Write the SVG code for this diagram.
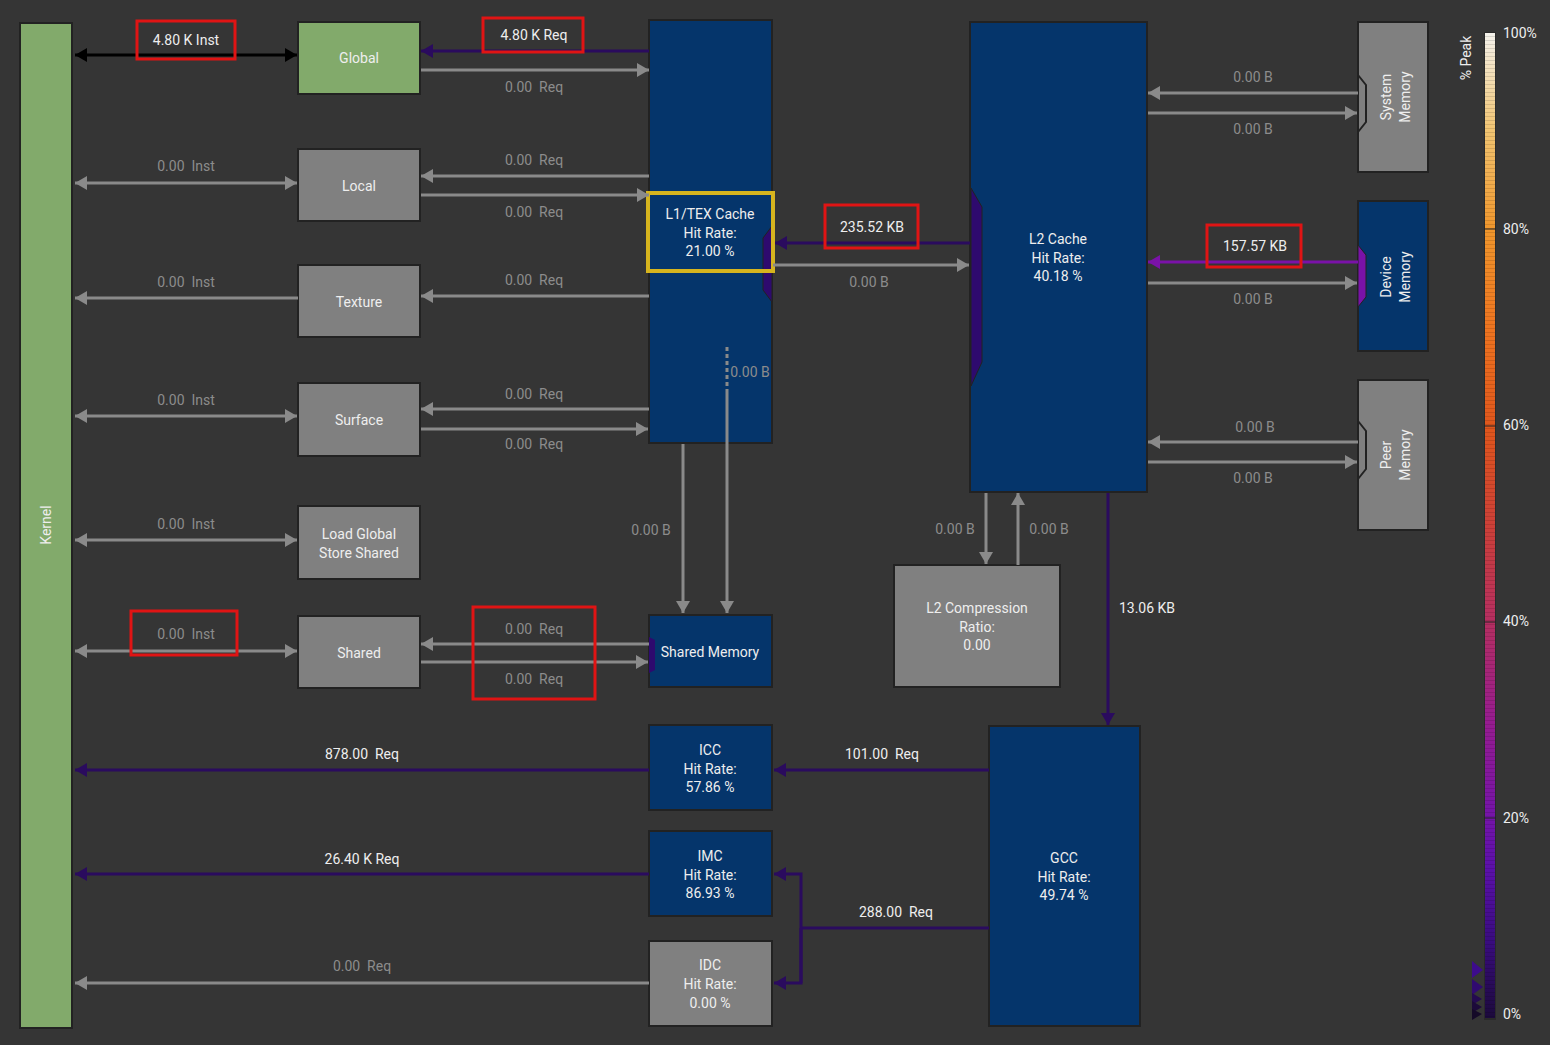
<svg xmlns="http://www.w3.org/2000/svg" width="1550" height="1045" viewBox="0 0 1550 1045">
<defs>
<style>
text{font-family:Roboto,"Liberation Sans",sans-serif;font-size:14px;white-space:pre}
.w{fill:#eeeeee;text-anchor:middle}
.g{fill:#8c8c8c;text-anchor:middle}
.nav{fill:#05356b;stroke:#222;stroke-width:2}
.gry{fill:#808080;stroke:#222;stroke-width:2}
.grn{fill:#82aa6b;stroke:#222;stroke-width:2}
.cg{stroke:#8a8a8a;stroke-width:3;fill:none}
.ck{stroke:#000;stroke-width:3;fill:none}
.cp{stroke:#2a0b5e;stroke-width:3;fill:none}
.cv{stroke:#7a12a8;stroke-width:3;fill:none}
.red{fill:none;stroke:#e01414;stroke-width:3}
</style>
<marker id="ag" viewBox="0 0 12 14" refX="12" refY="7" markerWidth="12" markerHeight="14" markerUnits="userSpaceOnUse" orient="auto-start-reverse"><path d="M0,0L12,7L0,14z" fill="#8a8a8a"/></marker>
<marker id="ak" viewBox="0 0 12 14" refX="12" refY="7" markerWidth="12" markerHeight="14" markerUnits="userSpaceOnUse" orient="auto-start-reverse"><path d="M0,0L12,7L0,14z" fill="#000"/></marker>
<marker id="ap" viewBox="0 0 12 14" refX="12" refY="7" markerWidth="12" markerHeight="14" markerUnits="userSpaceOnUse" orient="auto-start-reverse"><path d="M0,0L12,7L0,14z" fill="#2a0b5e"/></marker>
<marker id="av" viewBox="0 0 12 14" refX="12" refY="7" markerWidth="12" markerHeight="14" markerUnits="userSpaceOnUse" orient="auto-start-reverse"><path d="M0,0L12,7L0,14z" fill="#7a12a8"/></marker>
<linearGradient id="scale" x1="0" y1="1" x2="0" y2="0">
<stop offset="0" stop-color="#1c0a3c"/>
<stop offset="0.08" stop-color="#3a0c80"/>
<stop offset="0.15" stop-color="#5a10a8"/>
<stop offset="0.2" stop-color="#7214a8"/>
<stop offset="0.3" stop-color="#961c90"/>
<stop offset="0.4" stop-color="#b42e62"/>
<stop offset="0.5" stop-color="#cc4038"/>
<stop offset="0.6" stop-color="#e0561c"/>
<stop offset="0.7" stop-color="#ee7420"/>
<stop offset="0.8" stop-color="#f0962c"/>
<stop offset="0.9" stop-color="#f2c470"/>
<stop offset="1" stop-color="#f4f2ec"/>
</linearGradient>
<pattern id="stripes" width="4" height="4" patternUnits="userSpaceOnUse"><rect width="4" height="1" fill="#000" opacity="0.12"/></pattern>
</defs>
<rect width="1550" height="1045" fill="#353535"/>

<g id="kernel">
<rect class="grn" x="20" y="23" width="52" height="1005"/>
<text class="w" transform="translate(51,525) rotate(-90)" x="0" y="0">Kernel</text>
</g>
<g id="global">
<rect class="grn" x="298" y="22" width="122" height="72"/>
<text class="w" x="359" y="63">Global</text>
</g>
<g id="local">
<rect class="gry" x="298" y="149" width="122" height="72"/>
<text class="w" x="359" y="191">Local</text>
</g>
<g id="texture">
<rect class="gry" x="298" y="265" width="122" height="72"/>
<text class="w" x="359" y="307">Texture</text>
</g>
<g id="surface">
<rect class="gry" x="298" y="383" width="122" height="73"/>
<text class="w" x="359" y="425">Surface</text>
</g>
<g id="lgss">
<rect class="gry" x="298" y="506" width="122" height="73"/>
<text class="w" x="359" y="539">Load Global</text>
<text class="w" x="359" y="558">Store Shared</text>
</g>
<g id="shared">
<rect class="gry" x="298" y="616" width="122" height="72"/>
<text class="w" x="359" y="658">Shared</text>
</g>
<g id="l1tex">
<rect class="nav" x="649" y="20" width="123" height="423"/>
<polygon points="772,226 763,238 763,290 772,302" fill="#2e0a6e" stroke="#222" stroke-width="1"/>
<rect x="648" y="193" width="125" height="78" fill="none" stroke="#d6b41e" stroke-width="4"/>
<text class="w" x="710" y="219">L1/TEX Cache</text>
<text class="w" x="710" y="238">Hit Rate:</text>
<text class="w" x="710" y="256">21.00 %</text>
</g>
<g id="l2cache">
<rect class="nav" x="970" y="22" width="177" height="470"/>
<polygon points="971,188 982,207 982,362 971,386" fill="#2e0a6e" stroke="#222" stroke-width="1"/>
<text class="w" x="1058" y="244">L2 Cache</text>
<text class="w" x="1058" y="263">Hit Rate:</text>
<text class="w" x="1058" y="281">40.18 %</text>
</g>
<g id="sysmem">
<rect class="gry" x="1358" y="22" width="70" height="150"/>
<polygon points="1358,75 1366,85 1366,122 1358,132" fill="#808080" stroke="#222" stroke-width="2"/>
<g transform="translate(1395,97) rotate(-90)">
<text class="w" x="0" y="-4">System</text>
<text class="w" x="0" y="15">Memory</text>
</g>
</g>
<g id="devmem">
<rect class="nav" x="1358" y="201" width="70" height="150"/>
<polygon points="1358,245 1366,255 1366,297 1358,307" fill="#7a12a8" stroke="#222" stroke-width="1"/>
<g transform="translate(1395,277) rotate(-90)">
<text class="w" x="0" y="-4">Device</text>
<text class="w" x="0" y="15">Memory</text>
</g>
</g>
<g id="peermem">
<rect class="gry" x="1358" y="380" width="70" height="150"/>
<polygon points="1358,421 1366,431 1366,469 1358,479" fill="#808080" stroke="#222" stroke-width="2"/>
<g transform="translate(1395,455) rotate(-90)">
<text class="w" x="0" y="-4">Peer</text>
<text class="w" x="0" y="15">Memory</text>
</g>
</g>
<g id="l2comp">
<rect class="gry" x="894" y="565" width="166" height="122"/>
<text class="w" x="977" y="613">L2 Compression</text>
<text class="w" x="977" y="632">Ratio:</text>
<text class="w" x="977" y="650">0.00</text>
</g>
<g id="sharedmem">
<rect class="nav" x="649" y="615" width="123" height="72"/>
<polygon points="649,637 655,640 655,670 649,673" fill="#2e0a6e"/>
<text class="w" x="710" y="657">Shared Memory</text>
</g>
<g id="icc">
<rect class="nav" x="649" y="725" width="123" height="85"/>
<text class="w" x="710" y="755">ICC</text>
<text class="w" x="710" y="774">Hit Rate:</text>
<text class="w" x="710" y="792">57.86 %</text>
</g>
<g id="imc">
<rect class="nav" x="649" y="831" width="123" height="85"/>
<text class="w" x="710" y="861">IMC</text>
<text class="w" x="710" y="880">Hit Rate:</text>
<text class="w" x="710" y="898">86.93 %</text>
</g>
<g id="idc">
<rect class="gry" x="649" y="941" width="123" height="85"/>
<text class="w" x="710" y="970">IDC</text>
<text class="w" x="710" y="989">Hit Rate:</text>
<text class="w" x="710" y="1008">0.00 %</text>
</g>
<g id="gcc">
<rect class="nav" x="989" y="726" width="151" height="300"/>
<text class="w" x="1064" y="863">GCC</text>
<text class="w" x="1064" y="882">Hit Rate:</text>
<text class="w" x="1064" y="900">49.74 %</text>
</g>

<g id="connectors">
<!-- kernel to nodes -->
<line class="ck" x1="75" y1="55" x2="297" y2="55" marker-start="url(#ak)" marker-end="url(#ak)"/>
<line class="cg" x1="75" y1="183" x2="297" y2="183" marker-start="url(#ag)" marker-end="url(#ag)"/>
<line class="cg" x1="75" y1="298" x2="298" y2="298" marker-start="url(#ag)"/>
<line class="cg" x1="75" y1="416" x2="297" y2="416" marker-start="url(#ag)" marker-end="url(#ag)"/>
<line class="cg" x1="75" y1="540" x2="297" y2="540" marker-start="url(#ag)" marker-end="url(#ag)"/>
<line class="cg" x1="75" y1="651" x2="297" y2="651" marker-start="url(#ag)" marker-end="url(#ag)"/>
<!-- nodes to L1 -->
<line class="cp" x1="649" y1="51" x2="421" y2="51" marker-end="url(#ap)"/>
<line class="cg" x1="421" y1="70" x2="649" y2="70" marker-end="url(#ag)"/>
<line class="cg" x1="649" y1="176" x2="421" y2="176" marker-end="url(#ag)"/>
<line class="cg" x1="421" y1="195" x2="649" y2="195" marker-end="url(#ag)"/>
<line class="cg" x1="649" y1="296" x2="421" y2="296" marker-end="url(#ag)"/>
<line class="cg" x1="649" y1="409" x2="421" y2="409" marker-end="url(#ag)"/>
<line class="cg" x1="421" y1="429" x2="648" y2="429" marker-end="url(#ag)"/>
<line class="cg" x1="649" y1="644" x2="421" y2="644" marker-end="url(#ag)"/>
<line class="cg" x1="421" y1="662" x2="648" y2="662" marker-end="url(#ag)"/>
<!-- L1 to shared memory -->
<line class="cg" x1="683" y1="444" x2="683" y2="613" marker-end="url(#ag)"/>
<line stroke="#8a8a8a" stroke-width="3" stroke-dasharray="4,3" x1="727" y1="347" x2="727" y2="390"/>
<line class="cg" x1="727" y1="390" x2="727" y2="613" marker-end="url(#ag)"/>
<!-- L1 <-> L2 -->
<line class="cp" x1="970" y1="243" x2="775" y2="243" marker-end="url(#ap)"/>
<line class="cg" x1="773" y1="265" x2="969" y2="265" marker-end="url(#ag)"/>
<!-- L2 <-> memories -->
<line class="cg" x1="1358" y1="93" x2="1148" y2="93" marker-end="url(#ag)"/>
<line class="cg" x1="1148" y1="113" x2="1357" y2="113" marker-end="url(#ag)"/>
<line class="cv" x1="1358" y1="262" x2="1148" y2="262" marker-end="url(#av)"/>
<line class="cg" x1="1148" y1="283" x2="1357" y2="283" marker-end="url(#ag)"/>
<line class="cg" x1="1358" y1="442" x2="1148" y2="442" marker-end="url(#ag)"/>
<line class="cg" x1="1148" y1="462" x2="1357" y2="462" marker-end="url(#ag)"/>
<!-- L2 <-> compression -->
<line class="cg" x1="986" y1="493" x2="986" y2="564" marker-end="url(#ag)"/>
<line class="cg" x1="1018" y1="565" x2="1018" y2="493" marker-end="url(#ag)"/>
<!-- L2 to GCC -->
<line class="cp" x1="1108" y1="493" x2="1108" y2="725" marker-end="url(#ap)"/>
<!-- GCC to ICC/IMC/IDC -->
<line class="cp" x1="989" y1="770" x2="774" y2="770" marker-end="url(#ap)"/>
<polyline class="cp" points="989,928 801,928"/>
<polyline class="cp" points="801,983 801,874 774,874" marker-end="url(#ap)"/>
<polyline class="cp" points="801,928 801,983 774,983" marker-end="url(#ap)"/>
<!-- ICC/IMC/IDC to kernel -->
<line class="cp" x1="649" y1="770" x2="75" y2="770" marker-end="url(#ap)"/>
<line class="cp" x1="649" y1="874" x2="75" y2="874" marker-end="url(#ap)"/>
<line class="cg" x1="649" y1="983" x2="75" y2="983" marker-end="url(#ag)"/>

<!-- labels -->
<text class="w" x="186" y="45">4.80 K Inst</text>
<text class="g" x="186" y="171">0.00  Inst</text>
<text class="g" x="186" y="287">0.00  Inst</text>
<text class="g" x="186" y="405">0.00  Inst</text>
<text class="g" x="186" y="529">0.00  Inst</text>
<text class="g" x="186" y="639">0.00  Inst</text>
<text class="w" x="534" y="40">4.80 K Req</text>
<text class="g" x="534" y="92">0.00  Req</text>
<text class="g" x="534" y="165">0.00  Req</text>
<text class="g" x="534" y="217">0.00  Req</text>
<text class="g" x="534" y="285">0.00  Req</text>
<text class="g" x="534" y="399">0.00  Req</text>
<text class="g" x="534" y="449">0.00  Req</text>
<text class="g" x="534" y="634">0.00  Req</text>
<text class="g" x="534" y="684">0.00  Req</text>
<text class="g" x="750" y="377">0.00 B</text>
<text class="g" x="651" y="535">0.00 B</text>
<text class="w" x="872" y="232">235.52 KB</text>
<text class="g" x="869" y="287">0.00 B</text>
<text class="g" x="1253" y="82">0.00 B</text>
<text class="g" x="1253" y="134">0.00 B</text>
<text class="w" x="1255" y="251">157.57 KB</text>
<text class="g" x="1253" y="304">0.00 B</text>
<text class="g" x="1255" y="432">0.00 B</text>
<text class="g" x="1253" y="483">0.00 B</text>
<text class="g" x="955" y="534">0.00 B</text>
<text class="g" x="1049" y="534">0.00 B</text>
<text class="w" x="1147" y="613">13.06 KB</text>
<text class="w" x="882" y="759">101.00  Req</text>
<text class="w" x="896" y="917">288.00  Req</text>
<text class="w" x="362" y="759">878.00  Req</text>
<text class="w" x="362" y="864">26.40 K Req</text>
<text class="g" x="362" y="971">0.00  Req</text>

<!-- highlight boxes -->
<rect class="red" x="137" y="21" width="98" height="38"/>
<rect class="red" x="483" y="18" width="100" height="34"/>
<rect class="red" x="825" y="205" width="93" height="43"/>
<rect class="red" x="1207" y="225" width="94" height="42"/>
<rect class="red" x="131" y="611" width="106" height="44"/>
<rect class="red" x="473" y="607" width="122" height="92"/>
</g>

<g id="legend">
<rect x="1484" y="32" width="12" height="988" fill="#2a2a2a"/>
<rect x="1485" y="33" width="10" height="985" fill="url(#scale)"/>
<rect x="1485" y="33" width="10" height="985" fill="url(#stripes)"/>
<g stroke="#222" stroke-width="1">
<line x1="1484" y1="229" x2="1496" y2="229"/>
<line x1="1484" y1="426" x2="1496" y2="426"/>
<line x1="1484" y1="622" x2="1496" y2="622"/>
<line x1="1484" y1="818" x2="1496" y2="818"/>
</g>
<text fill="#eeeeee" x="1503" y="38">100%</text>
<text fill="#eeeeee" x="1503" y="234">80%</text>
<text fill="#eeeeee" x="1503" y="430">60%</text>
<text fill="#eeeeee" x="1503" y="626">40%</text>
<text fill="#eeeeee" x="1503" y="823">20%</text>
<text fill="#eeeeee" x="1503" y="1019">0%</text>
<text fill="#eeeeee" transform="translate(1471,58) rotate(-90)" text-anchor="middle">% Peak</text>
<polygon points="1472,961 1483,970 1472,978" fill="#3d0c8c"/>
<polygon points="1472,979 1483,987 1472,995" fill="#300a70"/>
<polygon points="1472,993 1482,999 1472,1005" fill="#240a50"/>
<polygon points="1472,1001 1482,1007 1472,1013" fill="#1c0a3a"/>
<polygon points="1472,1009 1482,1014 1472,1020" fill="#150a28"/>
</g>
</svg>
